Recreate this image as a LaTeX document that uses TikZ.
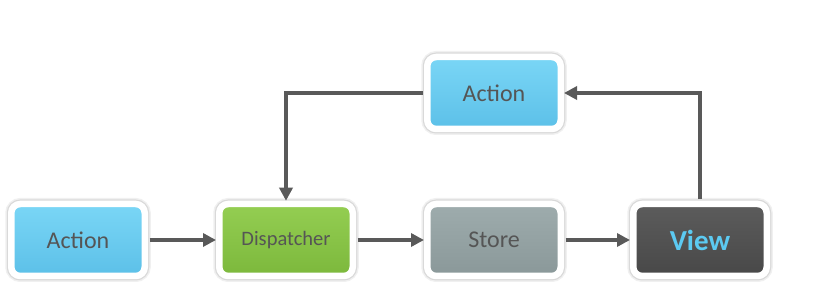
\documentclass[tikz,border=0pt]{standalone}
\usepackage{fontspec}
\setmainfont{Carlito}
\usetikzlibrary{arrows.meta}

\definecolor{txtgray}{HTML}{555555}
\definecolor{linegray}{HTML}{595959}
\definecolor{viewblue}{HTML}{5CCAF2}

\begin{document}
\begin{tikzpicture}[x=1pt, y=1pt,
	box/.style={rounded corners=9pt, draw=white, line width=6.5pt,
		minimum width=133.5pt, minimum height=72pt, inner sep=0pt,
		text=txtgray, font=\fontsize{24}{28}\selectfont,
		preaction={draw=black!6, line width=12pt},
		preaction={draw=black!15, line width=9pt}},
	flow/.style={draw=linegray, line width=4pt,
		-{Triangle[length=13pt, width=13pt]}, shorten <=1.5pt}
	]
	\useasboundingbox (0,0) rectangle (817,292);
	% Cajas
	\node[box, top color={rgb,255:red,122;green,214;blue,246}, bottom color={rgb,255:red,92;green,192;blue,232}] (act1) at (78,52) {Action};
	\node[box, top color={rgb,255:red,148;green,206;blue,82}, bottom color={rgb,255:red,124;green,184;blue,60},
		font=\fontsize{20.5}{24}\selectfont] (disp) at (286,52) {Dispatcher};
	\node[box, top color={rgb,255:red,158;green,172;blue,173}, bottom color={rgb,255:red,138;green,152;blue,153}] (store) at (494,52) {Store};
	\node[box, top color={rgb,255:red,92;green,92;blue,92}, bottom color={rgb,255:red,72;green,72;blue,72},
		text=viewblue, font=\fontsize{29}{32}\selectfont\bfseries] (view) at (700,52) {View};
	\node[box, top color={rgb,255:red,122;green,214;blue,246}, bottom color={rgb,255:red,92;green,192;blue,232}] (act2) at (494,199) {Action};
	
	% Flechas
	\draw[flow] (act1) -- (disp);
	\draw[flow] (disp) -- (store);
	\draw[flow] (store) -- (view);
	\draw[flow] (view.north) |- (act2.east);
	\draw[flow] (act2.west) -| (disp.north);
\end{tikzpicture}
\end{document}
